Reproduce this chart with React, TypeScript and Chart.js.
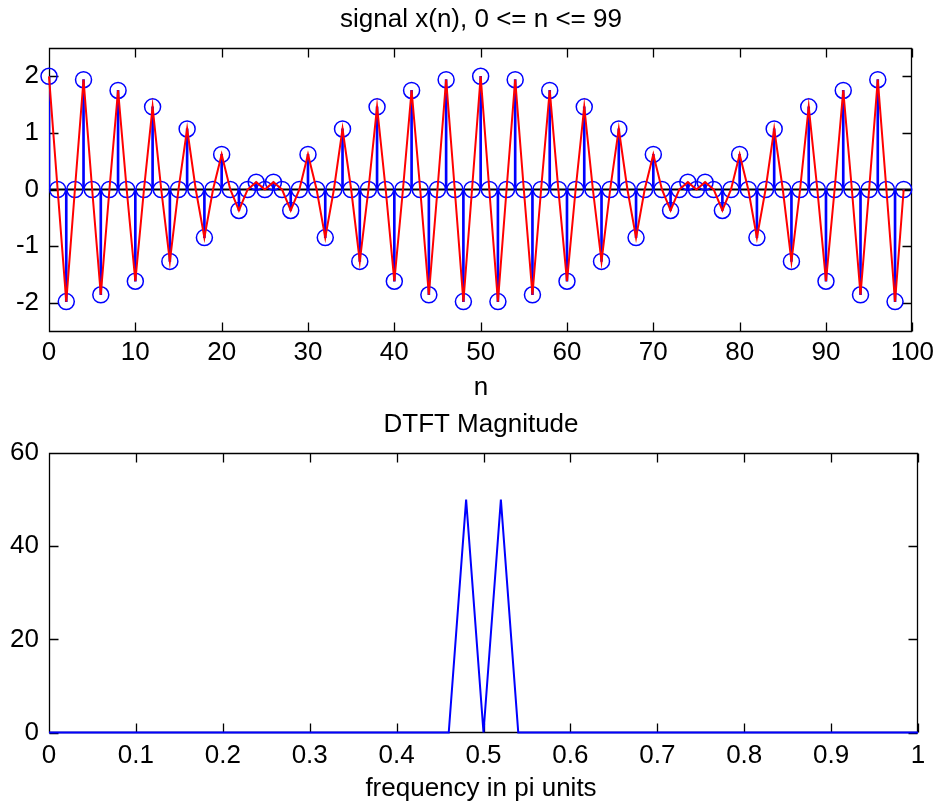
import React, { useEffect, useRef } from "react";
import { Chart, registerables } from "chart.js";

Chart.register(...registerables);

const FONT = "'Liberation Sans', Arial, Helvetica, sans-serif";
const FONT_SIZE = 26;

// ---- data: top plot (signal) ----
const nValues = [
  0, 1, 2, 3, 4, 5, 6, 7, 8, 9, 10, 11, 12, 13, 14, 15, 16, 17, 18, 19,
  20, 21, 22, 23, 24, 25, 26, 27, 28, 29, 30, 31, 32, 33, 34, 35, 36, 37, 38, 39,
  40, 41, 42, 43, 44, 45, 46, 47, 48, 49, 50, 51, 52, 53, 54, 55, 56, 57, 58, 59,
  60, 61, 62, 63, 64, 65, 66, 67, 68, 69, 70, 71, 72, 73, 74, 75, 76, 77, 78, 79,
  80, 81, 82, 83, 84, 85, 86, 87, 88, 89, 90, 91, 92, 93, 94, 95, 96, 97, 98, 99,
];
const signalValues = [
  2, 0, -1.98, 0, 1.94, 0, -1.86, 0, 1.75, 0, -1.62, 0, 1.46, 0, -1.27, 0, 1.07, 0, -0.85, 0,
  0.62, 0, -0.37, 0, 0.13, 0, 0.13, 0, -0.37, 0, 0.62, 0, -0.85, 0, 1.07, 0, -1.27, 0, 1.46, 0,
  -1.62, 0, 1.75, 0, -1.86, 0, 1.94, 0, -1.98, 0, 2, 0, -1.98, 0, 1.94, 0, -1.86, 0, 1.75, 0,
  -1.62, 0, 1.46, 0, -1.27, 0, 1.07, 0, -0.85, 0, 0.62, 0, -0.37, 0, 0.13, 0, 0.13, 0, -0.37, 0,
  0.62, 0, -0.85, 0, 1.07, 0, -1.27, 0, 1.46, 0, -1.62, 0, 1.75, 0, -1.86, 0, 1.94, 0, -1.98, 0,
];
const baselineX = [0, 100];
const topXTicks = [0, 10, 20, 30, 40, 50, 60, 70, 80, 90, 100];
const topYTicks = [-2, -1, 0, 1, 2];
const topXRange = [0, 100];
const topYRange = [-2.5, 2.5];

// ---- data: bottom plot (DTFT magnitude) ----
const freqValues = [
  0, 0.02, 0.04, 0.06, 0.08, 0.1, 0.12, 0.14, 0.16, 0.18, 0.2, 0.22, 0.24, 0.26, 0.28, 0.3, 0.32,
  0.34, 0.36, 0.38, 0.4, 0.42, 0.44, 0.46, 0.48, 0.5, 0.52, 0.54, 0.56, 0.58, 0.6, 0.62, 0.64,
  0.66, 0.68, 0.7, 0.72, 0.74, 0.76, 0.78, 0.8, 0.82, 0.84, 0.86, 0.88, 0.9, 0.92, 0.94, 0.96,
  0.98, 1,
];
const magValues = [
  0, 0, 0, 0, 0, 0, 0, 0, 0, 0, 0, 0, 0, 0, 0, 0, 0,
  0, 0, 0, 0, 0, 0, 0, 50, 0, 50, 0, 0, 0, 0, 0, 0,
  0, 0, 0, 0, 0, 0, 0, 0, 0, 0, 0, 0, 0, 0, 0, 0,
  0, 0,
];
const botXTicks = [0, 0.1, 0.2, 0.3, 0.4, 0.5, 0.6, 0.7, 0.8, 0.9, 1];
const botYTicks = [0, 20, 40, 60];
const botXRange = [0, 1];
const botYRange = [0, 60];

const BLUE = "#0000ff";
const RED = "#ff0000";

const framePlugin = {
  id: "frame",
  beforeDatasetsDraw(chart: any, _args: any, opts: any) {
    const { ctx, chartArea: a, scales } = chart;
    const L = 9;
    const l = Math.floor(a.left) + 0.5;
    const r = Math.floor(a.right) - 0.5;
    const t = Math.floor(a.top) + 0.5;
    const b = Math.floor(a.bottom) + 0.5;
    ctx.save();
    ctx.strokeStyle = "#000";
    ctx.lineWidth = 1.3;
    ctx.beginPath();
    ctx.rect(l, t, r - l, b - t);
    (opts.xTicks || []).forEach((v: number) => {
      const p = Math.round(scales.x.getPixelForValue(v)) + 0.5;
      ctx.moveTo(p, b);
      ctx.lineTo(p, b - L);
      ctx.moveTo(p, t);
      ctx.lineTo(p, t + L);
    });
    (opts.yTicks || []).forEach((v: number) => {
      const p = Math.round(scales.y.getPixelForValue(v)) + 0.5;
      ctx.moveTo(l, p);
      ctx.lineTo(l + L, p);
      ctx.moveTo(r, p);
      ctx.lineTo(r - L, p);
    });
    ctx.stroke();
    ctx.restore();
  },
  afterDraw(chart: any, _args: any, opts: any) {
    const { ctx } = chart;
    ctx.save();
    ctx.fillStyle = "#000";
    ctx.font = `${FONT_SIZE}px ${FONT}`;
    ctx.textAlign = "center";
    ctx.textBaseline = "alphabetic";
    (opts.texts || []).forEach((tx: any) => {
      ctx.fillText(tx.text, tx.x, tx.y);
    });
    ctx.restore();
  },
};

function axisCommon(ticks: number[], padding: number) {
  return {
    type: "linear" as const,
    offset: false,
    grid: { display: false, drawTicks: false },
    border: { display: false },
    afterBuildTicks: (s: any) => {
      s.ticks = ticks.map((v) => ({ value: v }));
    },
    ticks: {
      padding,
      autoSkip: false,
      maxRotation: 0,
      minRotation: 0,
      color: "#000",
      font: { family: FONT, size: FONT_SIZE },
      callback: (v: any) => String(Math.round(Number(v) * 100) / 100),
    },
  };
}

function SignalChart() {
  const ref = useRef<HTMLCanvasElement | null>(null);
  useEffect(() => {
    if (!ref.current) return;
    const pts = nValues.map((n, i) => ({ x: n, y: signalValues[i] }));
    const chart = new Chart(ref.current, {
      type: "line",
      data: {
        datasets: [
          {
            type: "line",
            data: baselineX.map((x) => ({ x, y: 0 })),
            borderColor: "#000",
            borderWidth: 2,
            pointRadius: 0,
            order: 4,
          } as any,
          {
            type: "bar",
            data: pts,
            backgroundColor: BLUE,
            borderWidth: 0,
            barThickness: 2,
            order: 3,
          } as any,
          {
            type: "line",
            data: pts,
            showLine: false,
            pointStyle: "circle",
            pointRadius: 8,
            pointBorderWidth: 1.5,
            pointBorderColor: BLUE,
            pointBackgroundColor: "rgba(0,0,0,0)",
            clip: false,
            order: 2,
          } as any,
          {
            type: "line",
            data: pts,
            borderColor: RED,
            borderWidth: 2,
            pointRadius: 0,
            tension: 0,
            clip: false,
            order: 1,
          } as any,
        ],
      },
      options: {
        responsive: false,
        maintainAspectRatio: false,
        animation: false,
        events: [],
        layout: { padding: { top: 48, right: 22, left: 0, bottom: 0 } },
        scales: {
          x: {
            ...axisCommon(topXTicks, 6),
            min: topXRange[0],
            max: topXRange[1],
            afterFit: (s: any) => {
              s.height = 69;
            },
          },
          y: {
            ...axisCommon(topYTicks, 10),
            min: topYRange[0],
            max: topYRange[1],
            afterFit: (s: any) => {
              s.width = 49;
            },
          },
        } as any,
        plugins: {
          legend: { display: false },
          tooltip: { enabled: false },
          frame: {
            xTicks: topXTicks,
            yTicks: topYTicks,
            texts: [
              { text: "signal x(n), 0 <= n <= 99", x: 481, y: 27 },
              { text: "n", x: 481, y: 395 },
            ],
          },
        } as any,
      },
      plugins: [framePlugin],
    });
    return () => chart.destroy();
  }, []);
  return (
    <canvas
      ref={ref}
      width={940}
      height={400}
      style={{ position: "absolute", left: 0, top: 0, width: 940, height: 400, display: "block" }}
    />
  );
}

function DtftChart() {
  const ref = useRef<HTMLCanvasElement | null>(null);
  useEffect(() => {
    if (!ref.current) return;
    const chart = new Chart(ref.current, {
      type: "line",
      data: {
        datasets: [
          {
            type: "line",
            data: freqValues.map((f, i) => ({ x: f, y: magValues[i] })),
            borderColor: BLUE,
            borderWidth: 2,
            pointRadius: 0,
            tension: 0,
            clip: false,
          } as any,
        ],
      },
      options: {
        responsive: false,
        maintainAspectRatio: false,
        animation: false,
        events: [],
        layout: { padding: { top: 53, right: 22, left: 0, bottom: 0 } },
        scales: {
          x: {
            ...axisCommon(botXTicks, 8),
            min: botXRange[0],
            max: botXRange[1],
            afterFit: (s: any) => {
              s.height = 71.5;
            },
          },
          y: {
            ...axisCommon(botYTicks, 10),
            min: botYRange[0],
            max: botYRange[1],
            afterFit: (s: any) => {
              s.width = 49;
            },
          },
        } as any,
        plugins: {
          legend: { display: false },
          tooltip: { enabled: false },
          frame: {
            xTicks: botXTicks,
            yTicks: botYTicks,
            texts: [
              { text: "DTFT Magnitude", x: 481, y: 32 },
              { text: "frequency in pi units", x: 481, y: 396 },
            ],
          },
        } as any,
      },
      plugins: [framePlugin],
    });
    return () => chart.destroy();
  }, []);
  return (
    <canvas
      ref={ref}
      width={940}
      height={404}
      style={{ position: "absolute", left: 0, top: 400, width: 940, height: 404, display: "block" }}
    />
  );
}

export default function App() {
  return (
    <div
      style={{
        position: "fixed",
        left: 0,
        top: 0,
        width: 940,
        height: 804,
        background: "#fff",
        overflow: "hidden",
      }}
    >
      <SignalChart />
      <DtftChart />
    </div>
  );
}
